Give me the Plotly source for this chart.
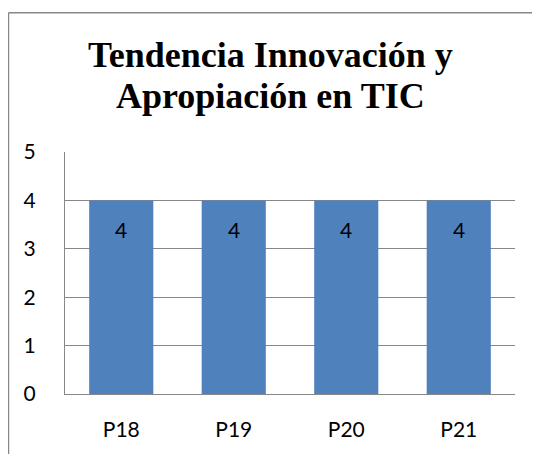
import plotly.graph_objects as go

categories = ["P18", "P19", "P20", "P21"]
values = [4, 4, 4, 4]
y_ticks = [0, 1, 2, 3, 4, 5]
title_lines = ["Tendencia Innovación y", "Apropiación en TIC"]

fig = go.Figure()
fig.add_trace(go.Bar(x=categories, y=values, marker_color="#4F81BD",
                     marker_line_width=0, hoverinfo="skip"))

# value labels sitting just inside the top of each bar
for c, v in zip(categories, values):
    fig.add_annotation(x=c, y=v, text=str(v), showarrow=False, yanchor="middle",
                       yshift=-29, font=dict(family="Lato", size=21, color="black"))

# two-line title, placed line by line for tighter spacing
for line, ypos in zip(title_lines, [1.4008, 1.2314]):
    fig.add_annotation(x=0.4556, y=ypos, xref="paper", yref="paper", text=line,
                       showarrow=False, xanchor="center", yanchor="middle",
                       font=dict(family="Liberation Serif", size=36, weight="bold",
                                 color="black"))

# chart border (left and top edges only visible)
fig.add_shape(type="line", xref="paper", yref="paper", x0=-0.1256, x1=-0.1256,
              y0=1.5756, y1=-0.4, line=dict(color="#878787", width=1.5))
fig.add_shape(type="line", xref="paper", yref="paper", x0=-0.1256, x1=1.2,
              y0=1.5756, y1=1.5756, line=dict(color="#878787", width=1.5))

# page body has an 8px margin, so the figure is drawn 8px in from the corner
fig.update_layout(
    width=532, height=446,
    margin=dict(l=57, r=25, t=144, b=60),
    paper_bgcolor="white", plot_bgcolor="white",
    bargap=0.43, showlegend=False,
    font=dict(family="Lato", size=21, color="black"),
)
fig.update_yaxes(range=[0, 5], tickvals=y_ticks, showgrid=True, gridcolor="#878787",
                 gridwidth=1, showline=True, linecolor="#878787", linewidth=1,
                 zeroline=False, ticks="", ticklabelstandoff=24, fixedrange=True)
fig.update_xaxes(showline=True, linecolor="#878787", linewidth=1, ticks="",
                 ticklabelstandoff=17, fixedrange=True)

fig.write_html("out.html")
